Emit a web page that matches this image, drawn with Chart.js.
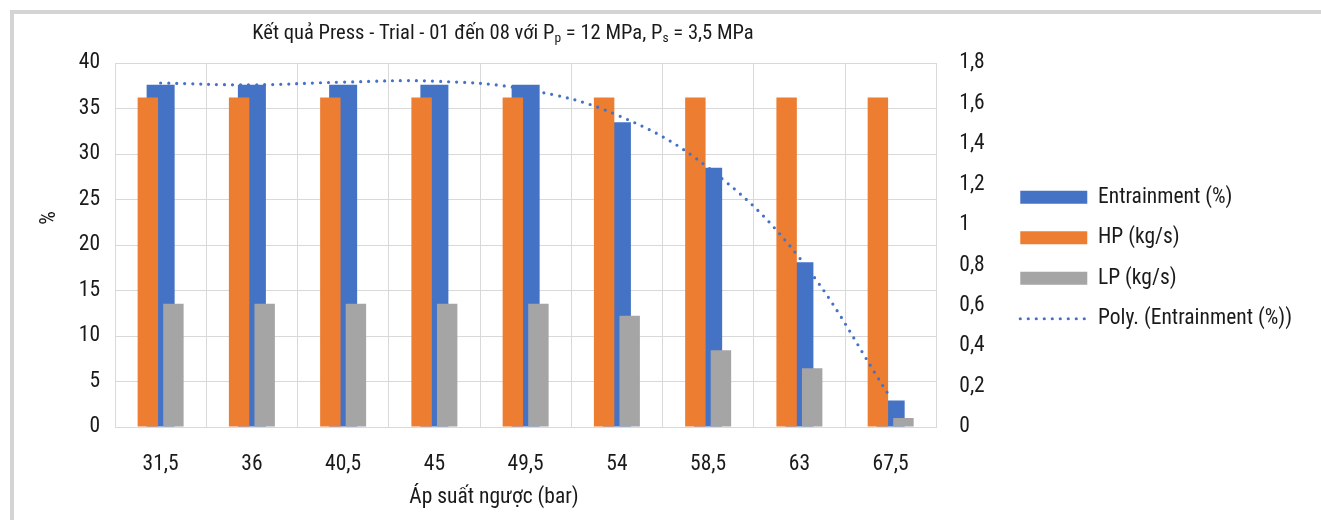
<!DOCTYPE html>
<html>
<head>
<meta charset="utf-8">
<script src="https://cdn.jsdelivr.net/npm/chart.js@4.4.1/dist/chart.umd.min.js"></script>
<style>
  html, body { margin: 0; padding: 0; background: #fff; overflow: hidden; }
  body { width: 1321px; height: 520px; position: relative; }
  #frame { position: absolute; left: 10px; top: 10px; width: 2000px; height: 1000px;
           border-left: 4px solid #d4d4d4; border-top: 4px solid #d4d4d4; }
  #wrap { position: absolute; left: 14px; top: 14px; width: 1307px; height: 506px; }
</style>
</head>
<body>
<div id="frame"></div>
<div id="wrap"><canvas id="myChart"></canvas></div>
<script>
// Ket qua Press - Trial 01..08
const categories = ["31,5", "36", "40,5", "45", "49,5", "54", "58,5", "63", "67,5"];
const entrainment = [37.6, 37.6, 37.6, 37.6, 37.6, 33.5, 28.5, 18.1, 2.9];
const hpFlow = [1.63, 1.63, 1.63, 1.63, 1.63, 1.63, 1.63, 1.63, 1.63];
const lpFlow = [0.61, 0.61, 0.61, 0.61, 0.61, 0.55, 0.38, 0.29, 0.045];
// poly trendline at each category
const trendEntrainment = [37.8, 37.6, 37.9, 38.0, 37.1, 34.3, 28.5, 18.6, 3.2];
const leftTicks = { min: 0, max: 40, step: 5 };
const rightTicks = { min: 0, max: 1.8, step: 0.2 };

const FONT = "'Roboto Condensed', 'Liberation Sans', sans-serif";
const FSIZE = 21.5;
const TEXT = "#1a1a1a";
const GRID = "#d9d9d9";
const BLUE = "#4472C4";
const TREND_DASH = [0, 8];

Chart.defaults.font.family = FONT;
Chart.defaults.font.size = FSIZE;
Chart.defaults.color = TEXT;

// titles drawn by hand (subscripts + off-centre placement like the original)
const titlesPlugin = {
  id: "titles",
  afterLayout(chart) {
    // lift the legend column a bit, it sits above the centre in the original
    chart.legend.top -= 13;
    chart.legend.bottom -= 13;
  },
  afterDraw(chart) {
    const ctx = chart.ctx;
    ctx.save();
    ctx.fillStyle = TEXT;
    ctx.textBaseline = "alphabetic";

    const big = "20.6px " + FONT;
    const small = "13.5px " + FONT;
    const parts = [
      ["Kết quả Press - Trial - 01 đến 08 với P", big, 0],
      ["p", small, 3],
      [" = 12 MPa, P", big, 0],
      ["s", small, 3],
      [" = 3,5 MPa", big, 0]
    ];
    let total = 0;
    parts.forEach(p => { ctx.font = p[1]; total += ctx.measureText(p[0]).width; });
    let x = 489 - total / 2;
    parts.forEach(p => {
      ctx.font = p[1];
      ctx.fillText(p[0], x, 25 + p[2]);
      x += ctx.measureText(p[0]).width;
    });

    ctx.font = FSIZE + "px " + FONT;
    ctx.textAlign = "center";
    ctx.fillText("Áp suất ngược (bar)", 480, 489);

    ctx.translate(36, 204);
    ctx.rotate(-Math.PI / 2);
    ctx.textBaseline = "middle";
    ctx.fillText("%", 0, 0);
    ctx.restore();
  }
};

const fmtComma = v => String(Number(v.toFixed(1))).replace(".", ",");

new Chart(document.getElementById("myChart"), {
  type: "bar",
  data: {
    labels: categories,
    datasets: [
      {
        label: "Entrainment (%)",
        data: entrainment,
        backgroundColor: BLUE,
        yAxisID: "y",
        grouped: false,
        categoryPercentage: 1,
        barPercentage: 0.307,
        order: 2
      },
      {
        label: "HP (kg/s)",
        data: hpFlow,
        backgroundColor: "#ED7D31",
        yAxisID: "y1",
        categoryPercentage: 0.56,
        barPercentage: 0.8,
        order: 1
      },
      {
        label: "LP (kg/s)",
        data: lpFlow,
        backgroundColor: "#A5A5A5",
        yAxisID: "y1",
        categoryPercentage: 0.56,
        barPercentage: 0.8,
        order: 1
      },
      {
        type: "line",
        label: "Poly. (Entrainment (%))",
        data: trendEntrainment,
        yAxisID: "y",
        borderColor: BLUE,
        borderWidth: 3.2,
        borderDash: TREND_DASH,
        borderCapStyle: "round",
        pointRadius: 0,
        tension: 0.4,
        fill: false,
        order: 0
      }
    ]
  },
  options: {
    responsive: true,
    maintainAspectRatio: false,
    animation: false,
    layout: { padding: { left: 51, right: 19, top: 49, bottom: 41 } },
    plugins: {
      tooltip: { enabled: false },
      title: { display: false },
      legend: {
        position: "right",
        maxWidth: 400,
        labels: {
          usePointStyle: true,
          pointStyleWidth: 67,
          boxHeight: 13,
          padding: 19,
          color: TEXT,
          font: { size: FSIZE },
          sort: (a, b) => a.datasetIndex - b.datasetIndex,
          generateLabels(chart) {
            const items = Chart.defaults.plugins.legend.labels.generateLabels(chart);
            items.forEach(it => {
              if (it.datasetIndex === 3) {
                it.pointStyle = "line";
                it.strokeStyle = BLUE;
                it.lineWidth = 3.2;
                it.lineDash = TREND_DASH;
                it.lineCap = "round";
              } else {
                it.pointStyle = "rect";
                it.lineWidth = 0;
              }
            });
            return items;
          }
        }
      }
    },
    scales: {
      x: {
        offset: true,
        grid: { color: GRID, offset: true, drawTicks: false },
        border: { color: GRID },
        ticks: { padding: 25, color: TEXT, maxRotation: 0 },
        afterFit: s => { s.height = 52; }
      },
      y: {
        position: "left",
        min: leftTicks.min,
        max: leftTicks.max,
        ticks: { stepSize: leftTicks.step, padding: 15, color: TEXT },
        grid: { color: GRID, drawTicks: false },
        border: { display: false },
        afterFit: s => { s.width = 50; }
      },
      y1: {
        position: "right",
        min: rightTicks.min,
        max: rightTicks.max,
        ticks: { stepSize: rightTicks.step, padding: 23, color: TEXT, callback: v => fmtComma(v) },
        grid: { drawOnChartArea: false, drawTicks: false },
        border: { display: false },
        afterFit: s => { s.width = 65; }
      }
    }
  },
  plugins: [titlesPlugin]
});
</script>
</body>
</html>
